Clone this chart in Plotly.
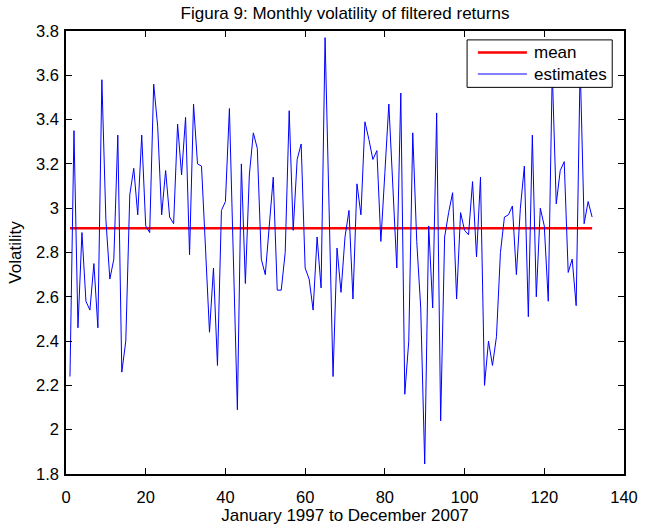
import plotly.graph_objects as go

# ---- data ----
months = list(range(1, 133))
estimates = [
    2.24, 3.35, 2.46, 2.89, 2.58, 2.54, 2.75, 2.46, 3.58, 2.95,
    2.68, 2.77, 3.33, 2.26, 2.40, 3.06, 3.18, 2.97, 3.33, 2.92,
    2.89, 3.56, 3.37, 2.97, 3.17, 2.96, 2.93, 3.38, 3.15, 3.41,
    2.79, 3.47, 3.20, 3.19, 2.82, 2.44, 2.73, 2.29, 2.99, 3.03,
    3.45, 2.78, 2.09, 3.20, 2.66, 3.15, 3.34, 3.27, 2.77, 2.70,
    2.92, 3.14, 2.63, 2.63, 2.80, 3.44, 2.90, 3.22, 3.29, 2.73,
    2.68, 2.54, 2.87, 2.64, 3.77, 3.00, 2.24, 2.82, 2.62, 2.87,
    2.99, 2.59, 3.11, 2.97, 3.39, 3.31, 3.22, 3.26, 2.85, 3.16,
    3.47, 3.10, 2.73, 3.52, 2.16, 2.40, 3.34, 2.85, 2.55, 1.845,
    2.92, 2.55, 3.43, 2.04, 2.87, 2.98, 3.07, 2.59, 2.98, 2.90,
    2.88, 3.12, 2.78, 3.14, 2.20, 2.40, 2.29, 2.42, 2.80, 2.96,
    2.97, 3.01, 2.70, 3.00, 3.19, 2.51, 3.33, 2.60, 3.00, 2.92,
    2.58, 3.62, 3.02, 3.17, 3.21, 2.71, 2.77, 2.56, 3.65, 2.93,
    3.03, 2.96,
]
mean_value = 2.91

x_ticks = [0, 20, 40, 60, 80, 100, 120, 140]
y_ticks = [1.8, 2.0, 2.2, 2.4, 2.6, 2.8, 3.0, 3.2, 3.4, 3.6, 3.8]
y_tick_labels = ["1.8", "2", "2.2", "2.4", "2.6", "2.8", "3", "3.2", "3.4", "3.6", "3.8"]

series_names = ["mean", "estimates"]
series_colors = ["#ff0000", "#0000ff"]
series_widths = [2.5, 1]

title_text = "Figura 9: Monthly volatility of filtered returns"
x_title = "January 1997 to December 2007"
y_title = "Volatility"

FONT = "Liberation Sans, Arial, Helvetica, sans-serif"

# plot area in pixels (figure 650 x 532)
W, H = 650, 532
L, R, T, B = 66, 635, 31, 479
PW, PH = R - L, B - T


def px_x(p):
    return (p - L) / PW


def px_y(p):
    return (B - p) / PH


fig = go.Figure()
fig.add_trace(go.Scatter(
    x=[months[0], months[-1]], y=[mean_value, mean_value],
    mode="lines", name=series_names[0],
    line=dict(color=series_colors[0], width=series_widths[0]),
))
fig.add_trace(go.Scatter(
    x=months, y=estimates,
    mode="lines", name=series_names[1],
    line=dict(color=series_colors[1], width=series_widths[1]),
))

# MATLAB-style legend box (drawn above the data)
shapes = [dict(
    type="rect", xref="paper", yref="paper", layer="above",
    x0=px_x(475), x1=px_x(623), y0=px_y(88), y1=px_y(40),
    line=dict(color="black", width=1), fillcolor="white",
)]
annotations = []
rows_y = [52.8, 74.5]
for name, color, width, ry in zip(series_names, series_colors, series_widths, rows_y):
    shapes.append(dict(
        type="line", xref="paper", yref="paper", layer="above",
        x0=px_x(486), x1=px_x(536), y0=px_y(ry), y1=px_y(ry),
        line=dict(color=color, width=width),
    ))
    annotations.append(dict(
        text=name, xref="paper", yref="paper", showarrow=False,
        x=px_x(541), xanchor="left", y=px_y(ry + 0.3), yanchor="middle",
        font=dict(family=FONT, size=17, color="black"),
    ))

axis_common = dict(
    showline=True, linecolor="black", linewidth=1.5,
    mirror="ticks", ticks="inside", ticklen=6, tickcolor="black", tickwidth=1,
    showgrid=False, zeroline=False,
    tickfont=dict(family=FONT, size=16.5, color="black"),
)

fig.update_layout(
    width=W, height=H,
    margin=dict(l=L, r=W - R, t=T, b=H - B, pad=0),
    paper_bgcolor="white", plot_bgcolor="white",
    font=dict(family=FONT, size=17, color="black"),
    title=dict(
        text=title_text, x=0.5, xref="paper", xanchor="center",
        y=1 - 13 / H, yref="container", yanchor="middle",
        font=dict(family=FONT, size=17, color="black"),
    ),
    showlegend=False,
    shapes=shapes,
    annotations=annotations,
    xaxis=dict(
        range=[0, 140], tickvals=x_ticks, ticklabelstandoff=7,
        title=dict(text=x_title, standoff=3, font=dict(family=FONT, size=17)),
        **axis_common,
    ),
    yaxis=dict(
        range=[1.8, 3.8], tickvals=y_ticks, ticktext=y_tick_labels,
        ticklabelstandoff=2,
        title=dict(text=y_title, standoff=10, font=dict(family=FONT, size=17)),
        **axis_common,
    ),
)

fig.write_html("out.html")
